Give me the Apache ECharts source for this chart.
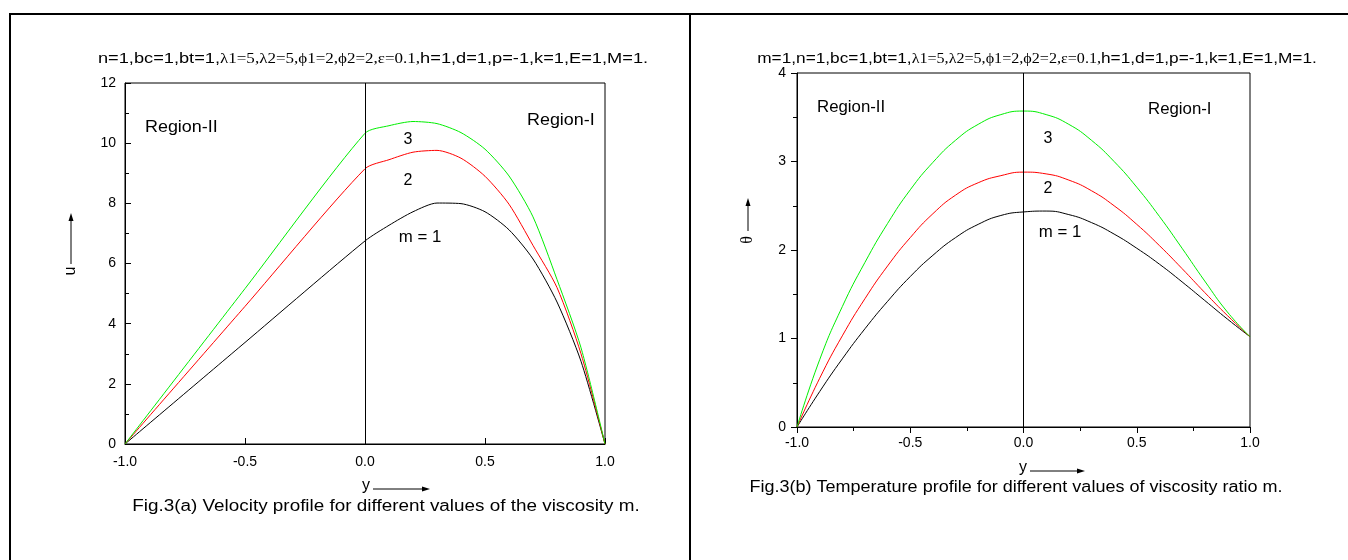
<!DOCTYPE html>
<html><head><meta charset="utf-8">
<script src="https://cdn.jsdelivr.net/npm/echarts@6/dist/echarts.min.js"></script>
<style>html,body{margin:0;padding:0;background:#fff}#c{width:1348px;height:560px}</style>
</head><body><div id="c"></div>
<script>
// ---- data: Fig.3(a) velocity u vs y ----
const uY = [-1, -0.5, 0, 0.1, 0.2, 0.3, 0.4, 0.5, 0.6, 0.7, 0.8, 0.9, 1.0];
const uM1 = [0, 3.375, 6.75, 7.27, 7.72, 8.01, 7.99, 7.72, 7.12, 6.15, 4.72, 2.75, 0];
const uM2 = [0, 4.575, 9.15, 9.45, 9.7, 9.76, 9.5, 8.9, 7.97, 6.6, 5.2, 3.0, 0];
const uM3 = [0, 5.165, 10.33, 10.58, 10.72, 10.65, 10.35, 9.8, 8.91, 7.55, 5.47, 3.2, 0];
// ---- data: Fig.3(b) temperature theta vs y ----
const tY = [-1, -0.9, -0.8, -0.7, -0.6, -0.5, -0.4, -0.3, -0.2, -0.1, 0, 0.1, 0.2, 0.3, 0.4, 0.5, 0.6, 0.7, 0.8, 0.9, 1.0];
const tM1 = [0, 0.4, 0.77, 1.11, 1.42, 1.7, 1.94, 2.14, 2.29, 2.39, 2.43, 2.44, 2.40, 2.31, 2.18, 2.02, 1.84, 1.64, 1.43, 1.22, 1.02];
const tM2 = [0, 0.55, 1.03, 1.45, 1.82, 2.14, 2.41, 2.62, 2.76, 2.84, 2.88, 2.86, 2.79, 2.67, 2.50, 2.29, 2.05, 1.79, 1.52, 1.26, 1.02];
const tM3 = [0, 0.76, 1.36, 1.86, 2.30, 2.68, 2.99, 3.24, 3.42, 3.53, 3.57, 3.53, 3.42, 3.24, 3.0, 2.71, 2.38, 2.02, 1.65, 1.3, 1.02];
const curveColors = ['#000000', '#ff0000', '#00ee00'];

const zip = (xs, ys) => xs.map((x, i) => [x, ys[i]]);
const chart = echarts.init(document.getElementById('c'));
const SANS = 'Liberation Sans, Arial, sans-serif';
const SERIF = 'Liberation Serif, Times New Roman, serif';

function axisX(gi, inside, minor, margin) {
  return {
    type: 'value', gridIndex: gi, min: -1, max: 1, interval: 0.5,
    axisLine: { show: true, onZero: false, lineStyle: { color: '#000', width: 1 } },
    axisTick: { show: true, inside: inside, length: 6, lineStyle: { color: '#000' } },
    minorTick: { show: minor, splitNumber: 2, length: 4, lineStyle: { color: '#000' } },
    splitLine: { show: false },
    axisLabel: { color: '#000', fontFamily: SANS, fontSize: 14, margin: margin,
      formatter: v => v.toFixed(1) }
  };
}
function axisY(gi, max, interval, inside, margin) {
  return {
    type: 'value', gridIndex: gi, min: 0, max: max, interval: interval,
    axisLine: { show: true, onZero: false, lineStyle: { color: '#000', width: 1 } },
    axisTick: { show: true, inside: inside, length: 6, lineStyle: { color: '#000' } },
    minorTick: { show: true, splitNumber: 2, length: 4, lineStyle: { color: '#000' } },
    splitLine: { show: false },
    axisLabel: { color: '#000', fontFamily: SANS, fontSize: 14, margin: margin }
  };
}
function line(name, xi, data, color, smooth, withMark) {
  const s = {
    name: name, type: 'line', xAxisIndex: xi, yAxisIndex: xi, data: data,
    showSymbol: false, smooth: smooth, lineStyle: { color: color, width: 1 }, silent: true
  };
  if (withMark) {
    s.markLine = { symbol: 'none', silent: true, label: { show: false },
      lineStyle: { color: '#000', type: 'solid', width: 1 }, data: [{ xAxis: 0 }] };
  }
  return s;
}
const titleRich = {
  a: { fontFamily: SANS, fontSize: 15, color: '#000' },
  b: { fontFamily: SERIF, fontSize: 14, color: '#000' }
};
function txt(x, y, s, size, align, sx) {
  return { type: 'text', x: x, y: y, scaleX: sx || 1, silent: true,
    style: { text: s, fill: '#000', font: (size || 14) + 'px ' + SANS, align: align || 'left', verticalAlign: 'middle' } };
}
function arrowRight(x1, x2, y) {
  return [
    { type: 'line', silent: true, shape: { x1: x1, y1: y, x2: x2 - 6, y2: y }, style: { stroke: '#000', lineWidth: 1 } },
    { type: 'polygon', silent: true, shape: { points: [[x2, y], [x2 - 8, y - 2.5], [x2 - 8, y + 2.5]] }, style: { fill: '#000' } }
  ];
}
function arrowUp(x, y1, y2) {
  return [
    { type: 'line', silent: true, shape: { x1: x, y1: y1, x2: x, y2: y2 + 6 }, style: { stroke: '#000', lineWidth: 1 } },
    { type: 'polygon', silent: true, shape: { points: [[x, y2], [x - 2.5, y2 + 8], [x + 2.5, y2 + 8]] }, style: { fill: '#000' } }
  ];
}
function rotText(x, y, s, font) {
  return { type: 'text', x: x, y: y, rotation: Math.PI / 2, silent: true,
    style: { text: s, fill: '#000', font: font, align: 'center', verticalAlign: 'middle' } };
}

const option = {
  animation: false,
  backgroundColor: '#fff',
  grid: [
    { left: 125, top: 83, width: 480, height: 361, show: true, borderColor: '#000', borderWidth: 1, backgroundColor: 'transparent' },
    { left: 797, top: 73, width: 453, height: 354, show: true, borderColor: '#000', borderWidth: 1, backgroundColor: 'transparent' }
  ],
  xAxis: [axisX(0, true, false, 11), axisX(1, false, true, 9)],
  yAxis: [axisY(0, 12, 2, true, 9), axisY(1, 4, 1, false, 11)],
  series: [
    line('m=1', 0, zip(uY, uM1), curveColors[0], 0.25, true),
    line('m=2', 0, zip(uY, uM2), curveColors[1], 0.25, false),
    line('m=3', 0, zip(uY, uM3), curveColors[2], 0.25, false),
    line('m=1', 1, zip(tY, tM1), curveColors[0], 0.5, true),
    line('m=2', 1, zip(tY, tM2), curveColors[1], 0.5, false),
    line('m=3', 1, zip(tY, tM3), curveColors[2], 0.5, false)
  ],
  graphic: [
    // page frame
    { type: 'line', silent: true, shape: { x1: 9, y1: 14, x2: 1348, y2: 14 }, style: { stroke: '#000', lineWidth: 2 } },
    { type: 'line', silent: true, shape: { x1: 10, y1: 13, x2: 10, y2: 560 }, style: { stroke: '#000', lineWidth: 2 } },
    { type: 'line', silent: true, shape: { x1: 690, y1: 13, x2: 690, y2: 560 }, style: { stroke: '#000', lineWidth: 2 } },
    // titles
    { type: 'text', x: 373, y: 59, scaleX: 1.215, silent: true,
      style: { text: '{a|n=1,bc=1,bt=1,}{b|λ1=5,λ2=5,ϕ1=2,ϕ2=2,ε=0.1,}{a|h=1,d=1,p=-1,k=1,E=1,M=1.}',
        rich: titleRich, align: 'center', verticalAlign: 'middle' } },
    { type: 'text', x: 1037, y: 59, scaleX: 1.15, silent: true,
      style: { text: '{a|m=1,n=1,bc=1,bt=1,}{b|λ1=5,λ2=5,ϕ1=2,ϕ2=2,ε=0.1,}{a|h=1,d=1,p=-1,k=1,E=1,M=1.}',
        rich: titleRich, align: 'center', verticalAlign: 'middle' } },
    // left chart annotations
    txt(145, 128, 'Region-II', 16, 'left', 1.12),
    txt(527, 121, 'Region-I', 16, 'left', 1.12),
    txt(408, 140, '3', 16, 'center'),
    txt(408, 181, '2', 16, 'center'),
    txt(420, 238, 'm = 1', 16, 'center', 1.05),
    rotText(71, 271, 'u', '16px ' + SANS),
    ...arrowUp(71, 264, 213),
    txt(366, 486, 'y', 16, 'center'),
    ...arrowRight(373, 430, 489),
    txt(386, 507, 'Fig.3(a) Velocity profile for different values of the viscosity m.', 16, 'center', 1.18),
    // right chart annotations
    txt(817, 108, 'Region-II', 16, 'left', 1.05),
    txt(1148, 110, 'Region-I', 16, 'left', 1.05),
    txt(1048, 139, '3', 16, 'center'),
    txt(1048, 189, '2', 16, 'center'),
    txt(1060, 233, 'm = 1', 16, 'center', 1.05),
    rotText(748, 240, 'θ', '16px ' + SERIF),
    ...arrowUp(748, 231, 198),
    txt(1023, 468, 'y', 16, 'center'),
    ...arrowRight(1030, 1085, 471),
    txt(1016, 488, 'Fig.3(b) Temperature profile for different values of viscosity ratio m.', 16, 'center', 1.125)
  ]
};
chart.setOption(option);
</script></body></html>
